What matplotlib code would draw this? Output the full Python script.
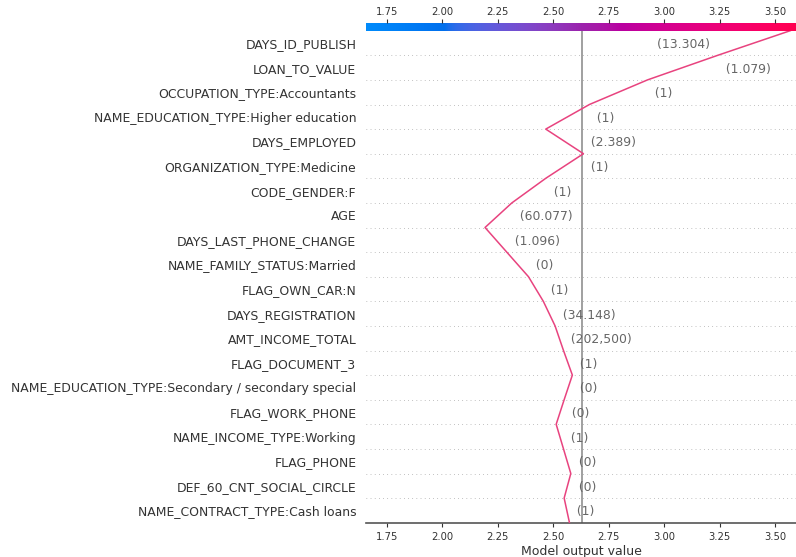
import numpy as np
import matplotlib
matplotlib.use("Agg")
import matplotlib.pyplot as plt
from matplotlib.colors import LinearSegmentedColormap, Normalize
from matplotlib.ticker import MultipleLocator

# Features, listed from the bottom row to the top row
feature_names = [
    "NAME_CONTRACT_TYPE:Cash loans",
    "DEF_60_CNT_SOCIAL_CIRCLE",
    "FLAG_PHONE",
    "NAME_INCOME_TYPE:Working",
    "FLAG_WORK_PHONE",
    "NAME_EDUCATION_TYPE:Secondary / secondary special",
    "FLAG_DOCUMENT_3",
    "AMT_INCOME_TOTAL",
    "DAYS_REGISTRATION",
    "FLAG_OWN_CAR:N",
    "NAME_FAMILY_STATUS:Married",
    "DAYS_LAST_PHONE_CHANGE",
    "AGE",
    "CODE_GENDER:F",
    "ORGANIZATION_TYPE:Medicine",
    "DAYS_EMPLOYED",
    "NAME_EDUCATION_TYPE:Higher education",
    "OCCUPATION_TYPE:Accountants",
    "LOAN_TO_VALUE",
    "DAYS_ID_PUBLISH",
]
feature_values = [1, 0, 0, 1, 0, 0, 1, 202500, 34.148, 1,
                  0, 1.096, 60.077, 1, 1, 2.389, 1, 1, 1.079, 13.304]

# Cumulative model output at each row boundary (bottom -> top)
output_path = [2.573, 2.549, 2.579, 2.546, 2.513, 2.549, 2.586, 2.546,
               2.508, 2.455, 2.388, 2.290, 2.192, 2.313, 2.466, 2.636,
               2.466, 2.663, 2.925, 3.242, 3.569]
base_value = 2.630
x_range = (1.655, 3.595)


def red_blue_cmap():
    """Blue -> purple -> red colormap interpolated in LCH space."""
    n = 100
    blue_lch = (54.0, 70.0, 4.6588)
    red_lch = (54.0, 90.0, 0.35470565 + 2 * np.pi)
    l_mid = 40.0
    L = np.concatenate([np.linspace(blue_lch[0], l_mid, n // 2),
                        np.linspace(l_mid, red_lch[0], n // 2)])
    C = np.linspace(blue_lch[1], red_lch[1], n)
    H = np.linspace(blue_lch[2], red_lch[2], n)
    a = C * np.cos(H)
    b = C * np.sin(H)
    fy = (L + 16) / 116
    fx = fy + a / 500
    fz = fy - b / 200

    def finv(t):
        return np.where(t > 6 / 29, t ** 3, 3 * (6 / 29) ** 2 * (t - 4 / 29))

    X = 0.95047 * finv(fx)
    Y = finv(fy)
    Z = 1.08883 * finv(fz)
    r = 3.2404542 * X - 1.5371385 * Y - 0.4985314 * Z
    g = -0.9692660 * X + 1.8760108 * Y + 0.0415560 * Z
    bl = 0.0556434 * X - 0.2040259 * Y + 1.0572252 * Z
    rgb = np.stack([r, g, bl], -1)
    rgb = np.where(rgb > 0.0031308,
                   1.055 * np.power(np.clip(rgb, 0, None), 1 / 2.4) - 0.055,
                   12.92 * rgb)
    rgb = np.clip(rgb, 0, 1)
    return LinearSegmentedColormap.from_list("red_blue", list(rgb))


cmap = red_blue_cmap()
norm = Normalize(*x_range)
axis_color = "#333333"
n_feat = len(feature_names)

fig = plt.figure(figsize=(7.96, 5.57), dpi=100)
W, H = 796, 557
ax = fig.add_axes([366 / W, 34.3 / H, 430 / W, 492 / H])
cax = fig.add_axes([366 / W, (H - 31) / H, 430 / W, 8 / H])

# Row separators
for i in range(1, n_feat):
    ax.axhline(i, color="#888888", lw=0.5, dashes=(1, 5), zorder=-1)

# Base value
ax.axvline(base_value, color="#999999", lw=1.3, zorder=1)

# Decision path
y_pos = np.arange(n_feat + 1)
ax.plot(output_path, y_pos, color="#e8437f", lw=1.1, zorder=3)

ax.set_xlim(*x_range)
ax.set_ylim(0, n_feat)
ax.set_yticks(np.arange(n_feat) + 0.5)
ax.set_yticklabels(feature_names, fontsize=8.9, color=axis_color,
                   va="center_baseline")
ax.tick_params(axis="y", length=0, pad=7)
ax.xaxis.set_major_locator(MultipleLocator(0.25))
ax.tick_params(axis="x", labelsize=7.2, colors=axis_color, labelcolor=axis_color,
               length=3, width=0.8, pad=3.5)
for s in ("left", "right", "top"):
    ax.spines[s].set_visible(False)
ax.spines["bottom"].set_color("#555555")
ax.spines["bottom"].set_linewidth(1.2)
ax.set_xlabel("Model output value", fontsize=9, color=axis_color, labelpad=2.5)

# Colour bar along the top
grad = np.linspace(*x_range, 512).reshape(1, -1)
cax.imshow(grad, aspect="auto", cmap=cmap, norm=norm,
           extent=[x_range[0], x_range[1], 0, 1])
cax.set_xlim(*x_range)
cax.set_yticks([])
cax.xaxis.tick_top()
cax.xaxis.set_major_locator(MultipleLocator(0.25))
cax.tick_params(axis="x", labelsize=7.2, colors=axis_color, labelcolor=axis_color,
                length=3, width=0.8, pad=1)
for s in cax.spines.values():
    s.set_visible(False)

# Feature value annotations
fig.canvas.draw()
renderer = fig.canvas.get_renderer()
inv = ax.transData.inverted()
for i, val in enumerate(feature_values):
    s = "({})".format("{0:,.3f}".format(val).rstrip("0").rstrip("."))
    seg = output_path[i:i + 2]
    t = ax.text(max(seg), i + 0.5, "  " + s, fontsize=8.9, color="#666666",
                ha="left", va="center_baseline", zorder=4)
    bb = inv.transform_bbox(t.get_window_extent(renderer=renderer))
    if bb.xmax > x_range[1]:
        t.set_text(s + "  ")
        t.set_x(min(seg))
        t.set_horizontalalignment("right")

fig.savefig("out.png", dpi=100)
